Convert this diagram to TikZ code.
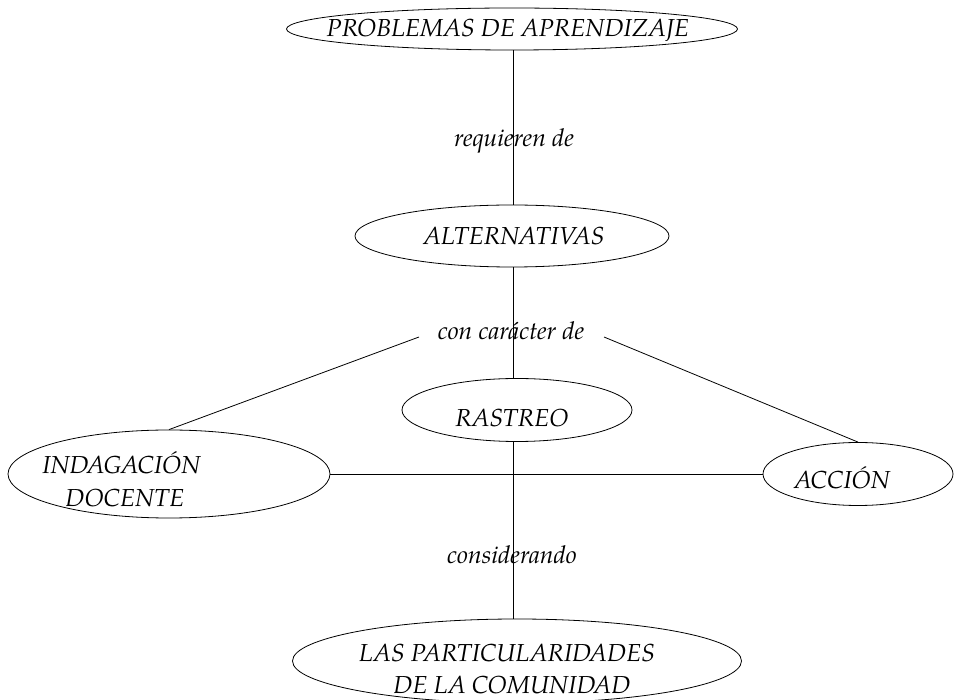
\documentclass[tikz,border=0pt]{standalone}
\usepackage{fontspec}
\setmainfont{TeX Gyre Pagella}
\usetikzlibrary{shapes.geometric}

\tikzset{
    concept/.style={ellipse, draw, thin, inner sep=0pt},
    caption/.style={inner sep=0pt, anchor=base},
    link/.style={draw, thin}
}

\begin{document}
\begin{tikzpicture}[x=0.5pt, y=-0.5pt, font=\fontsize{12.3}{15}\selectfont\itshape]
    \useasboundingbox (0,0) rectangle (955,700);
    % ellipses
    \node[concept, minimum width=225.5pt, minimum height=21pt] (nProb) at (512,29) {};
    \node[concept, minimum width=157pt, minimum height=31pt] (nAlt) at (512,236) {};
    \node[concept, minimum width=115pt, minimum height=31.5pt] (nRas) at (517,410) {};
    \node[concept, minimum width=161pt, minimum height=44pt] (nInd) at (169,474) {};
    \node[concept, minimum width=95pt, minimum height=31.5pt] (nAcc) at (858,474) {};
    \node[concept, minimum width=224.5pt, minimum height=42pt] (nCom) at (517,661) {};

    % texts
    \node[caption] (tProb) at (508,37) {PROBLEMAS DE APRENDIZAJE};
    \node[caption] (tAlt) at (514,245) {ALTERNATIVAS};
    \node[caption] (tRas) at (512,427) {RASTREO};
    \node[caption, anchor=base west] (tIndA) at (42,474) {INDAGACI\'ON};
    \node[caption, anchor=base west] (tIndB) at (65,507) {DOCENTE};
    \node[caption] (tAcc) at (842,489) {ACCI\'ON};
    \node[caption] (tComA) at (507,662) {LAS PARTICULARIDADES};
    \node[caption] (tComB) at (512,694) {DE LA COMUNIDAD};

    \node[caption] (lReq) at (514,147) {requieren de};
    \node[caption] (lCar) at (511,340) {con car\'acter de};
    \node[caption] (lCons) at (512,564) {considerando};
    \coordinate (cL) at (419,337);
    \coordinate (cR) at (604,337);

    \path[link] (nProb.south -| 513,0) -- (nAlt.north -| 513,0);
    \path[link] (nAlt.south -| 513,0) -- (nRas.north -| 513,0);
    \path[link] (nRas.south -| 513,0) -- (nCom.north -| 513,0);
    \path[link] (cL) -- (nInd.north);
    \path[link] (cR) -- (nAcc.north);
    \path[link] (nInd.east) -- (nAcc.west);
\end{tikzpicture}
\end{document}
